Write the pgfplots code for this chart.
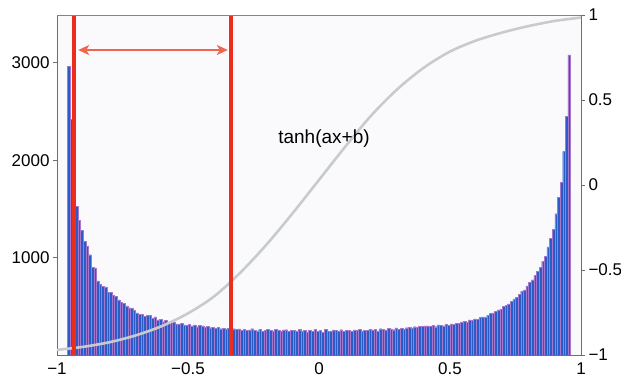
\documentclass[border=0pt]{standalone}
\usepackage{pgfplots}
\pgfplotsset{compat=1.18}
\usepackage{pgfplotstable}
\usetikzlibrary{arrows.meta}
\usepackage{fontspec}
\setmainfont{Liberation Sans}
\definecolor{barblue}{RGB}{42,92,200}
\definecolor{baredge}{RGB}{165,120,205}
\definecolor{vred}{RGB}{236,45,30}
\definecolor{ared}{RGB}{240,100,80}
\definecolor{curvegray}{RGB}{200,203,205}
\definecolor{bgc}{RGB}{250,250,253}
\definecolor{framegray}{RGB}{110,110,110}
\definecolor{topframe}{RGB}{190,110,90}

\pgfplotstableread{
x y
-0.955 2960
-0.945 2420
-0.935 1800
-0.925 1525
-0.915 1385
-0.905 1280
-0.895 1165
-0.885 1120
-0.875 1030
-0.865 900
-0.855 895
-0.845 760
-0.835 725
-0.825 705
-0.815 700
-0.805 645
-0.795 640
-0.785 615
-0.775 600
-0.765 565
-0.755 540
-0.745 530
-0.735 505
-0.725 485
-0.715 478
-0.705 460
-0.695 432
-0.685 420
-0.675 418
-0.665 400
-0.655 405
-0.645 410
-0.635 378
-0.625 392
-0.615 360
-0.605 366
-0.595 342
-0.585 356
-0.575 330
-0.565 340
-0.555 336
-0.545 320
-0.535 314
-0.525 326
-0.515 310
-0.505 304
-0.495 316
-0.485 300
-0.475 308
-0.465 290
-0.455 306
-0.445 298
-0.435 284
-0.425 294
-0.415 280
-0.405 286
-0.395 276
-0.385 282
-0.375 270
-0.365 276
-0.355 268
-0.345 272
-0.335 266
-0.325 270
-0.315 262
-0.305 268
-0.295 255
-0.285 262
-0.275 250
-0.265 258
-0.255 270
-0.245 252
-0.235 248
-0.225 262
-0.215 244
-0.205 250
-0.195 266
-0.185 254
-0.175 248
-0.165 262
-0.155 250
-0.145 246
-0.135 258
-0.125 260
-0.115 240
-0.105 252
-0.095 256
-0.085 248
-0.075 262
-0.065 244
-0.055 250
-0.045 238
-0.035 254
-0.025 246
-0.015 264
-0.005 244
0.005 250
0.015 236
0.025 262
0.035 248
0.045 242
0.055 258
0.065 254
0.075 246
0.085 260
0.095 242
0.105 252
0.115 256
0.125 244
0.135 258
0.145 250
0.155 262
0.165 246
0.175 254
0.185 250
0.195 266
0.205 258
0.215 262
0.225 248
0.235 270
0.245 262
0.255 258
0.265 274
0.275 268
0.285 260
0.295 278
0.305 266
0.315 272
0.325 264
0.335 280
0.345 284
0.355 274
0.365 290
0.375 282
0.385 296
0.395 292
0.405 300
0.415 298
0.425 296
0.435 302
0.445 290
0.455 310
0.465 306
0.475 300
0.485 318
0.495 304
0.505 320
0.515 314
0.525 328
0.535 322
0.545 340
0.555 348
0.565 336
0.575 360
0.585 356
0.595 372
0.605 366
0.615 384
0.625 392
0.635 386
0.645 410
0.655 426
0.665 432
0.675 448
0.685 462
0.695 470
0.705 498
0.715 512
0.725 524
0.735 548
0.745 575
0.755 590
0.765 624
0.775 655
0.785 668
0.795 710
0.805 745
0.815 770
0.825 818
0.835 860
0.845 902
0.855 960
0.865 1010
0.875 1110
0.885 1200
0.895 1290
0.905 1450
0.915 1620
0.925 1775
0.935 2090
0.945 2450
0.955 3080
}\histdata

\pgfplotstableread{
x y
-1.0 -0.970
-0.9 -0.952
-0.8 -0.925
-0.7 -0.885
-0.6 -0.830
-0.5 -0.755
-0.4 -0.655
-0.3 -0.515
-0.2 -0.350
-0.1 -0.165
0.0 0.030
0.1 0.225
0.2 0.410
0.3 0.565
0.4 0.690
0.5 0.785
0.6 0.850
0.7 0.897
0.8 0.935
0.9 0.965
1.0 0.985
}\curvedata

\begin{document}
\begin{tikzpicture}
\pgfplotsset{
  every tick label/.append style={font=\fontsize{17}{17}\selectfont},
}
\begin{axis}[
  scale only axis,
  width=524pt, height=340pt,
  xmin=-1, xmax=1, ymin=0, ymax=3490,
  axis background/.style={fill=bgc},
  axis line style={framegray, line width=0.8pt},
  xtick={-1,-0.5,0,0.5,1},
  xticklabels={−1,−0.5,0,0.5,1},
  ytick={1000,2000,3000},
  yticklabels={1000,2000,3000},
  tick align=outside,
  major tick length=4pt,
  xtick style={draw=none},
  ytick style={framegray, line width=0.8pt},
  ytick pos=left,
  xtick pos=bottom,
  clip=true,
]
\addplot[ybar, bar width=0.01, bar shift=0, fill=barblue, draw=baredge, line width=0.3pt] table[x=x,y=y] {\histdata};
\end{axis}
\begin{axis}[
  scale only axis,
  width=524pt, height=340pt,
  xmin=-1, xmax=1, ymin=-1, ymax=1,
  axis x line=none,
  axis y line*=right,
  axis line style={framegray, line width=0.8pt},
  ytick={-1,-0.5,0,0.5,1},
  yticklabels={−1,−0.5,0,0.5,1},
  tick align=outside,
  major tick length=4pt,
  ytick style={framegray, line width=0.8pt},
  clip=false,
]
\addplot[curvegray, line width=2.6pt, smooth] table[x=x,y=y] {\curvedata};
\addplot[vred, line width=4pt] coordinates {(-0.937,-1) (-0.937,1)};
\addplot[vred, line width=4pt] coordinates {(-0.334,-1) (-0.334,1)};
\addplot[ared, line width=1.6pt, {Stealth[length=11pt,width=10pt,inset=3pt]}-{Stealth[length=11pt,width=10pt,inset=3pt]}] coordinates {(-0.919,0.794) (-0.348,0.794)};
\draw[topframe, line width=0.8pt] (rel axis cs:0,1) -- (rel axis cs:1,1);
\node[font=\fontsize{19}{19}\selectfont, anchor=center] at (axis cs:0.019,0.274) {tanh(ax+b)};
\end{axis}
\pgfresetboundingbox
\path (-57pt,-24pt) rectangle (564pt,355pt);
\end{tikzpicture}
\end{document}
